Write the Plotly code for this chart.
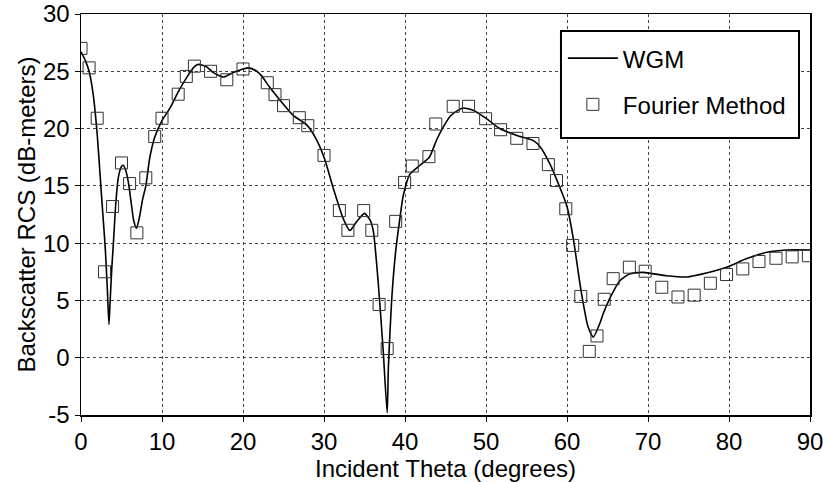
import plotly.graph_objects as go

# WGM curve
wgm_theta = [0.0, 0.5, 1.0, 1.5, 2.0, 2.4, 2.7, 3.0, 3.25, 3.45, 3.6, 3.8, 4.0, 4.3, 4.6,
             5.0, 5.2, 5.5, 5.85, 6.2, 6.5, 6.85, 7.2, 7.6, 8.0, 8.5, 9.1, 10.0, 11.0,
             12.0, 13.0, 14.0, 14.5, 15.5, 16.3, 17.6, 18.8, 20.0, 20.7, 21.7, 22.3,
             23.3, 24.6, 26.2, 27.9, 29.1, 30.1, 31.1, 32.4, 33.2, 34.0, 35.0, 35.7,
             36.1, 36.7, 37.3, 37.8, 37.95, 38.35, 38.85, 39.3, 39.8, 40.6, 41.85,
             43.0, 43.9, 44.7, 45.6, 46.8, 47.2, 48.4, 50.1, 51.7, 53.8, 55.8, 56.7,
             57.9, 59.1, 60.0, 60.8, 61.7, 62.6, 63.25, 64.0, 64.5, 65.3, 66.5, 67.7,
             69.4, 72.3, 74.8, 77.2, 79.7, 82.2, 84.7, 87.1, 90.0]
wgm_rcs = [26.7, 26.0, 25.0, 23.0, 19.5, 15.5, 12.5, 9.5, 6.0, 2.9, 5.0, 7.8, 10.0, 13.5, 15.7,
           16.7, 16.8, 16.4, 15.3, 13.5, 12.0, 11.3, 12.2, 13.8, 15.0, 17.5, 19.25, 20.7, 21.8,
           23.2, 24.4, 25.4, 25.6, 25.4, 24.9, 24.5, 24.9, 25.2, 25.3, 25.0, 24.6,
           23.6, 22.45, 21.15, 20.3, 19.0, 17.3, 14.9, 12.1, 11.1, 11.85, 12.6, 12.0,
           11.0, 6.5, 0.7, -4.8, -0.8, 5.0, 9.3, 11.8, 14.2, 16.0, 16.8,
           17.5, 19.0, 20.1, 21.1, 21.7, 21.8, 21.6, 20.85, 20.0, 19.4, 18.97, 18.4,
           16.9, 14.9, 13.2, 10.3, 6.0, 2.7, 1.8, 2.9, 3.9, 5.2, 6.7, 7.3,
           7.45, 7.15, 7.05, 7.4, 7.9, 8.65, 9.2, 9.4, 9.4]

# Fourier Method points
fm_theta = [0, 1, 2, 2.9, 3.9, 5, 6, 6.9, 8, 9.1, 10, 12, 13, 14, 16, 18, 20, 23, 23.95,
            25, 26.95, 28, 30, 31.9, 32.95, 34.9, 35.9, 36.8, 37.8, 38.85, 39.95, 40.9,
            42.95, 43.8, 45.95, 47.85, 49.95, 51.8, 53.8, 55.8, 57.7, 58.7, 59.85, 60.7,
            61.7, 62.75, 63.7, 64.6, 65.7, 67.7, 69.65, 71.7, 73.7, 75.7, 77.7, 79.7,
            81.7, 83.7, 85.8, 87.8, 89.8]
fm_rcs = [27.0, 25.3, 20.9, 7.5, 13.2, 17.0, 15.2, 10.9, 15.7, 19.3, 20.9, 23.0, 24.55, 25.45,
          25.0, 24.26, 25.2, 24.0, 22.96, 22.0, 20.95, 20.25, 17.66, 12.84, 11.12, 12.84,
          11.12, 4.65, 0.8, 11.9, 15.3, 16.73, 17.55, 20.4, 21.94, 21.94, 20.86, 19.9,
          19.15, 18.7, 16.85, 15.46, 13.0, 9.8, 5.35, 0.55, 1.9, 5.1, 6.9, 7.9, 7.55,
          6.15, 5.3, 5.46, 6.5, 7.26, 7.75, 8.4, 8.68, 8.8, 8.9]

x_ticks = [0, 10, 20, 30, 40, 50, 60, 70, 80, 90]
y_ticks = [-5, 0, 5, 10, 15, 20, 25, 30]

FONT = "Liberation Sans, Arial, Helvetica, sans-serif"
FS = 24

fig = go.Figure()
fig.add_trace(go.Scatter(
    x=wgm_theta, y=wgm_rcs, mode="lines", name="WGM", legendgroup="a",
    line=dict(color="black", width=1.6, shape="spline", smoothing=0.6),
))
fig.add_trace(go.Scatter(
    x=fm_theta, y=fm_rcs, mode="markers", name="Fourier Method", legendgroup="b",
    marker=dict(symbol="square-open", size=12, color="#333333", line=dict(width=1)),
))

axis_common = dict(
    showline=True, linecolor="black", linewidth=1.5, mirror=True,
    ticks="outside", ticklen=5, tickcolor="black", tickwidth=1,
    showgrid=True, gridcolor="#444444", gridwidth=1, griddash="dot",
    zeroline=False, automargin=False, ticklabeloverflow="allow",
    tickfont=dict(family=FONT, size=FS, color="black"),
)

fig.update_xaxes(range=[0, 90], tickvals=x_ticks,
                 ticktext=[str(v) for v in x_ticks],
                 title=dict(text="Incident Theta (degrees)", standoff=0,
                            font=dict(family=FONT, size=FS, color="black")),
                 **axis_common)
fig.update_yaxes(range=[-5, 30], tickvals=y_ticks,
                 ticktext=[str(v) for v in y_ticks],
                 title=dict(text="Backscatter RCS (dB-meters)", standoff=0,
                            font=dict(family=FONT, size=FS, color="black")),
                 **axis_common)

# legend frame (drawn as a paper-anchored box behind the legend entries)
fig.add_shape(type="rect", xref="paper", yref="paper",
              x0=0.6584, x1=0.9849, y0=0.6908, y1=0.9576,
              fillcolor="white", line=dict(color="black", width=2), layer="above")

fig.update_layout(
    width=823, height=482,
    margin=dict(l=81, r=13, t=14, b=67),
    paper_bgcolor="white", plot_bgcolor="white",
    font=dict(family=FONT, size=FS, color="black"),
    legend=dict(x=0.661, y=0.945, xanchor="left", yanchor="top",
                bgcolor="rgba(0,0,0,0)", borderwidth=0,
                font=dict(family=FONT, size=FS, color="black"),
                tracegroupgap=12, itemwidth=50),
    showlegend=True,
    hovermode=False,
)

fig.write_html("out.html", config={"displayModeBar": False, "staticPlot": True},
               post_script="document.body.style.margin='0';document.body.style.padding='0';")
